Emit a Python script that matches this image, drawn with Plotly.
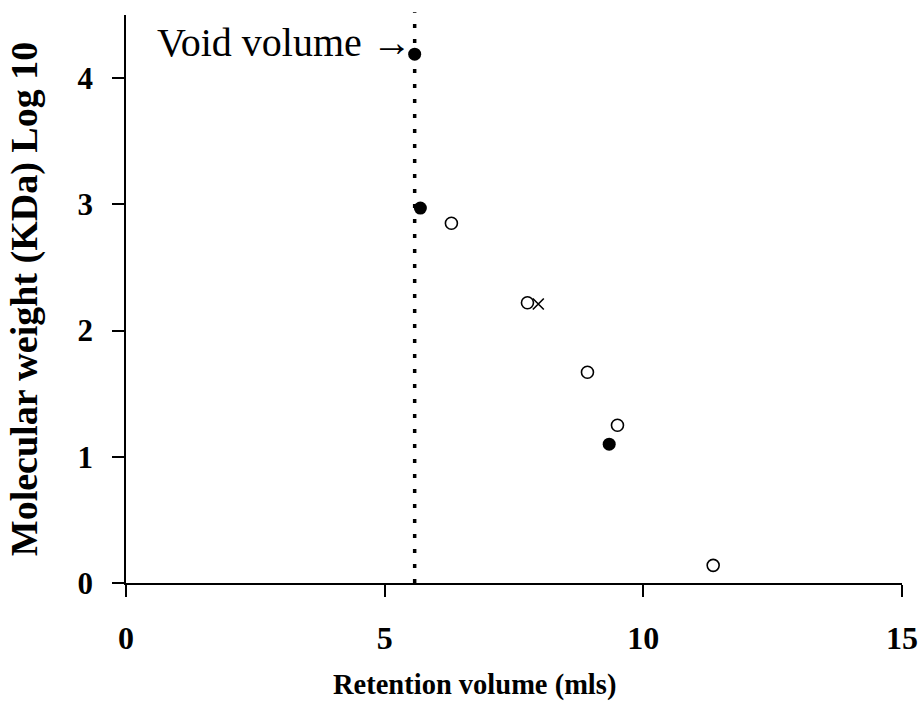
import plotly.graph_objects as go

# Calibration standards: retention volume (ml) vs log10 molecular weight (kDa)
filled_x = [5.58, 5.69, 9.34]
filled_y = [4.19, 2.97, 1.10]
open_x = [6.29, 7.76, 8.92, 9.50, 11.35]
open_y = [2.85, 2.22, 1.67, 1.25, 0.14]
cross_x = [7.97]
cross_y = [2.21]
void_volume = 5.58

x_ticks = [0, 5, 10, 15]
y_ticks = [0, 1, 2, 3, 4]

FONT = "Liberation Serif"

fig = go.Figure()

fig.add_trace(go.Scatter(
    x=filled_x, y=filled_y, mode="markers",
    marker=dict(symbol="circle", size=13, color="black", line=dict(width=0)),
    showlegend=False, cliponaxis=False,
))
fig.add_trace(go.Scatter(
    x=open_x, y=open_y, mode="markers",
    marker=dict(symbol="circle-open", size=12, color="black", line=dict(width=1.6)),
    showlegend=False, cliponaxis=False,
))
fig.add_trace(go.Scatter(
    x=cross_x, y=cross_y, mode="markers",
    marker=dict(symbol="x-thin-open", size=11, color="black", line=dict(width=1.6)),
    showlegend=False, cliponaxis=False,
))

# Void volume marker line
fig.add_shape(
    type="line", xref="x", yref="paper",
    x0=void_volume, x1=void_volume, y0=0, y1=1.005,
    line=dict(color="black", width=3.5, dash="4px,11px"),
)

fig.add_annotation(
    x=void_volume, y=4.28, xref="x", yref="y",
    text="Void volume \u2192", showarrow=False,
    xanchor="right", yanchor="middle", xshift=-1,
    font=dict(family=FONT, size=40, color="black"),
)

# x-axis title, set slightly left of the plot centre
fig.add_annotation(
    x=0.4497, y=-0.18, xref="paper", yref="paper",
    text="<b>Retention volume (mls)</b>", showarrow=False,
    xanchor="center", yanchor="middle",
    font=dict(family=FONT, size=28.5, color="black"),
)

fig.update_xaxes(
    range=[0, 15], tickvals=x_ticks, ticktext=[str(v) for v in x_ticks],
    showgrid=False, zeroline=False, automargin=False,
    showline=True, linecolor="black", linewidth=1.5,
    ticks="outside", ticklen=12, tickwidth=1.5, tickcolor="black",
    ticklabelstandoff=14,
    tickfont=dict(family=FONT, size=32, color="black", weight="bold"),
)
fig.update_yaxes(
    range=[0, 4.5], tickvals=y_ticks, ticktext=[str(v) for v in y_ticks],
    showgrid=False, zeroline=False, automargin=False,
    showline=True, linecolor="black", linewidth=1.5,
    ticks="outside", ticklen=12, tickwidth=1.5, tickcolor="black",
    ticklabelstandoff=13,
    tickfont=dict(family=FONT, size=31, color="black", weight="bold"),
    title=dict(text="<b>Molecular weight (KDa) Log 10</b>", standoff=28,
               font=dict(family=FONT, size=38, color="black")),
)

fig.update_layout(
    width=920, height=706,
    margin=dict(l=126, r=18, t=15, b=123),
    paper_bgcolor="white", plot_bgcolor="white",
)

fig.write_html("out.html")
